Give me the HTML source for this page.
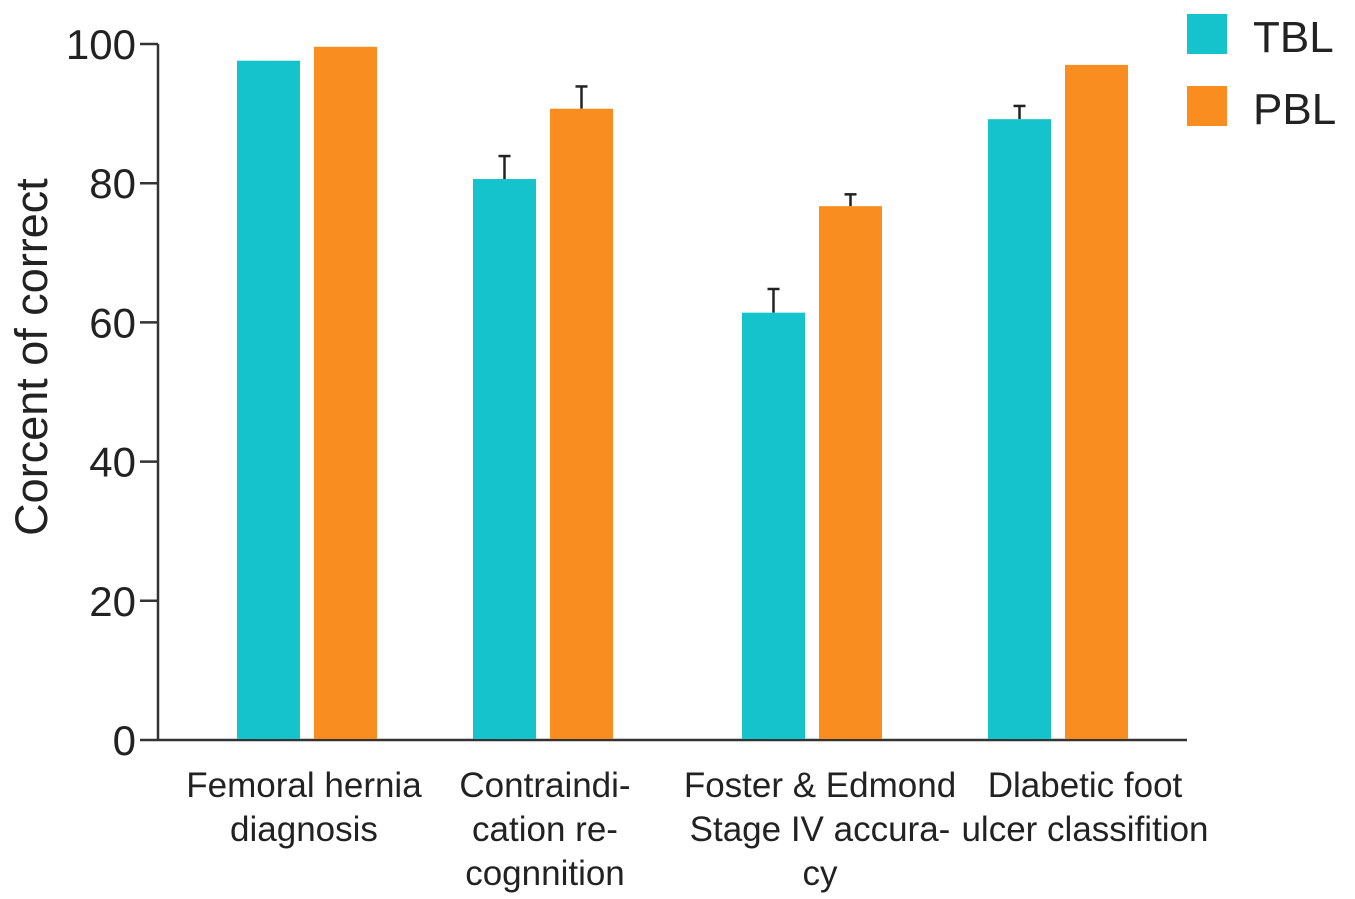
<!DOCTYPE html>
<html><head><meta charset="utf-8"><style>body{margin:0;background:#fff}svg{display:block;font-family:"Liberation Sans",Arial,sans-serif}</style></head>
<body>
<svg id="chart" width="1355" height="899" viewBox="0 0 1355 899"></svg>
<script>
const categories=[["Femoral hernia","diagnosis"],["Contraindi-","cation re-","cognnition"],["Foster & Edmond","Stage IV accura-","cy"],["Dlabetic foot","ulcer classifition"]];
const tblValues=[97.6,80.6,61.4,89.2];
const tblErrors=[0,3.3,3.4,1.9];
const pblValues=[99.6,90.7,76.7,97.0];
const pblErrors=[0,3.2,1.7,0];
const yTicks=[0,20,40,60,80,100];
const seriesNames=["TBL","PBL"];
const colors=["#14c3cc","#f98d1f"];
const NS="http://www.w3.org/2000/svg";
const svg=document.getElementById('chart');
const x0=158,xEnd=1187,y0=740,y100=44;
const yS=v=>y0-(y0-y100)*v/100;
const groupCenters=[307,543,812,1058];
const labelCenters=[304,545,820,1085];
const bw=63,gap=14;
function mk(t,a,p){const e=document.createElementNS(NS,t);for(const k in a)e.setAttribute(k,a[k]);(p||svg).appendChild(e);return e;}
let e=mk('line',{x1:x0,y1:y100,x2:x0,y2:y0,stroke:'#333','stroke-width':2.5});


e=mk('line',{x1:x0,y1:y0,x2:xEnd,y2:y0,stroke:'#333','stroke-width':2.5});


yTicks.forEach(t=>{
 const y=yS(t);
 let l=mk('line',{x1:x0-18,y1:y,x2:x0,y2:y,stroke:'#333','stroke-width':2.5});
 
 
 let tx=mk('text',{x:x0-22,y:y+15,'text-anchor':'end','font-size':42,fill:'#222'});
 tx.textContent=t;
 
 
});
e=mk('text',{transform:'translate(47,357) rotate(-90)','text-anchor':'middle','font-size':45,fill:'#222'});
e.textContent='Corcent of correct';


const series=[[tblValues,tblErrors],[pblValues,pblErrors]];
categories.forEach((c,i)=>{
 series.forEach((s,j)=>{
  const xl=groupCenters[i]+(j===0?-(bw+gap/2):gap/2);
  const v=s[0][i],err=s[1][i];
  if(err>0){
   const xc=xl+bw/2;
   let l=mk('line',{x1:xc,y1:yS(v),x2:xc,y2:yS(v+err),stroke:'#222','stroke-width':2.5});
   
   
   let c2=mk('line',{x1:xc-6,y1:yS(v+err),x2:xc+6,y2:yS(v+err),stroke:'#222','stroke-width':2.5});
   
   
  }
  let r=mk('rect',{x:xl,y:yS(v),width:bw,height:y0-yS(v)-1,fill:colors[j]});
  
  
 });
 c.forEach((line,k)=>{
  let t=mk('text',{x:labelCenters[i],y:797+k*44,'text-anchor':'middle','font-size':35,fill:'#222'});
  t.textContent=line;
  
  
 });
});
seriesNames.forEach((n,j)=>{
 let r=mk('rect',{x:1187,y:14+j*72,width:40,height:40,fill:colors[j]});
 
 
 let t=mk('text',{x:1253,y:52+j*72,'font-size':44,fill:'#222'});
 t.textContent=n;
 
 
});
</script>
</body></html>
